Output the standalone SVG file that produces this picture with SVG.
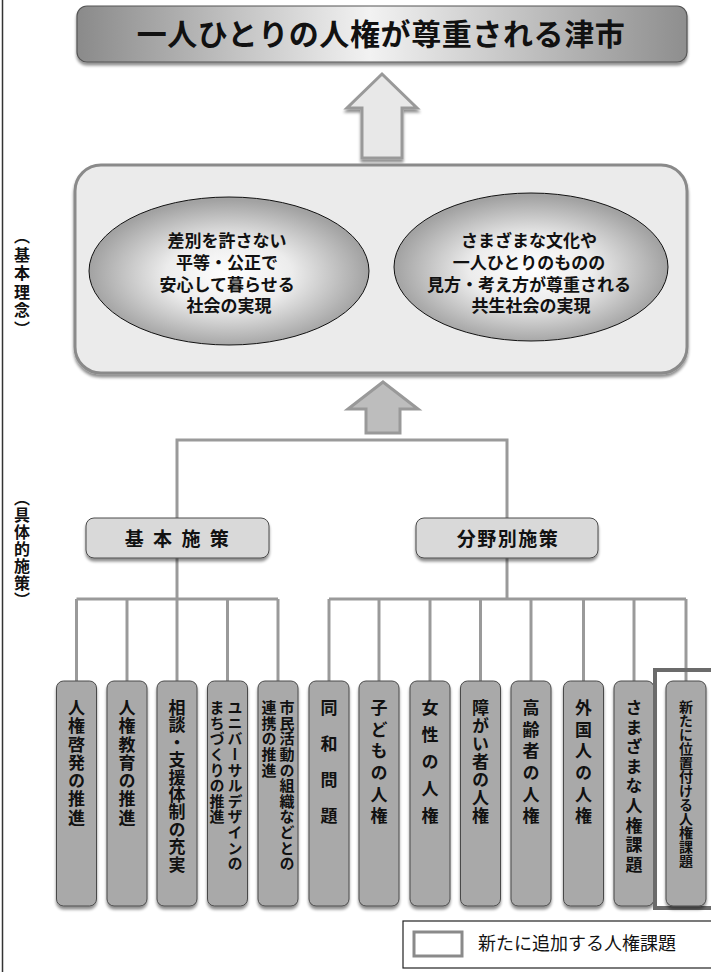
<svg xmlns="http://www.w3.org/2000/svg" width="711" height="972" viewBox="0 0 711 972">
<defs>
  <linearGradient id="gTitle" x1="0" y1="0" x2="1" y2="0">
    <stop offset="0" stop-color="#8a8a8a"/>
    <stop offset="0.48" stop-color="#f2f2f2"/>
    <stop offset="1" stop-color="#8e8e8e"/>
  </linearGradient>
  <radialGradient id="gEll" cx="0.5" cy="0.52" r="0.5">
    <stop offset="0" stop-color="#ffffff"/>
    <stop offset="0.45" stop-color="#ececec"/>
    <stop offset="1" stop-color="#a2a2a2"/>
  </radialGradient>
  <filter id="sh" x="-10%" y="-10%" width="120%" height="130%">
    <feGaussianBlur in="SourceAlpha" stdDeviation="1.8"/>
    <feOffset dx="0" dy="3" result="b"/>
    <feComponentTransfer><feFuncA type="linear" slope="0.45"/></feComponentTransfer>
    <feMerge><feMergeNode/><feMergeNode in="SourceGraphic"/></feMerge>
  </filter>
</defs>
<style>
  text { font-family: "Noto Sans CJK JP", "Noto Sans", sans-serif; fill: #111; }
  .b { font-weight: bold; }
  .line { stroke: #9a9a9a; stroke-width: 3; fill: none; }
  .leaf { fill: #a9a9a9; stroke: #4a4a4a; stroke-width: 1; }
  .mid { fill: #d9d9d9; stroke: #4a4a4a; stroke-width: 1; }
  .v { writing-mode: vertical-rl; font-weight: bold; }
</style>

<line x1="2.5" y1="0" x2="2.5" y2="972" stroke="#333" stroke-width="1.5"/>

<g id="title">
  <rect x="77" y="6" width="610" height="56" rx="10" fill="url(#gTitle)" stroke="#555" stroke-width="1.2" filter="url(#sh)"/>
  <text x="381" y="45" font-size="30" class="b" text-anchor="middle" letter-spacing="0.6">一人ひとりの人権が尊重される津市</text>
</g>

<g id="arrow1">
  <polygon points="382,74 417,108 402,108 402,158 362,158 362,108 347,108" fill="#e8e8e8" stroke="#999" stroke-width="3" stroke-linejoin="miter" filter="url(#sh)"/>
</g>

<g id="label-kihonrinen">
  <text x="22" y="228" font-size="16" class="v" letter-spacing="2.5">（基本理念）</text>
</g>

<g id="rinen">
  <rect x="75" y="165" width="612" height="208" rx="26" fill="#ebebeb" stroke="#8a8a8a" stroke-width="3" filter="url(#sh)"/>
</g>

<g id="ellipse1">
  <ellipse cx="229" cy="271" rx="140" ry="74" fill="url(#gEll)" stroke="#111" stroke-width="1"/>
  <text font-size="17" class="b" text-anchor="middle">
    <tspan x="229" y="247">差別を許さない</tspan>
    <tspan x="229" y="269">平等・公正で</tspan>
    <tspan x="229" y="291">安心して暮らせる</tspan>
    <tspan x="229" y="312">社会の実現</tspan>
  </text>
</g>

<g id="ellipse2">
  <ellipse cx="531" cy="267" rx="137" ry="74" fill="url(#gEll)" stroke="#111" stroke-width="1"/>
  <text font-size="17" class="b" text-anchor="middle">
    <tspan x="531" y="247">さまざまな文化や</tspan>
    <tspan x="531" y="269">一人ひとりのものの</tspan>
    <tspan x="531" y="291">見方・考え方が尊重される</tspan>
    <tspan x="531" y="312">共生社会の実現</tspan>
  </text>
</g>

<g id="arrow2">
  <polygon points="383,382 418,409 400,409 400,433 366,433 366,409 348,409" fill="#bdbdbd" stroke="#999" stroke-width="3"/>
</g>

<g id="connectors">
  <polyline class="line" points="177,518 177,440 507,440 507,518"/>
  <line class="line" x1="177" y1="558" x2="177" y2="599"/>
  <line class="line" x1="76.5" y1="599" x2="278" y2="599"/>
  <line class="line" x1="76.5" y1="599" x2="76.5" y2="681"/>
  <line class="line" x1="127" y1="599" x2="127" y2="681"/>
  <line class="line" x1="177" y1="599" x2="177" y2="681"/>
  <line class="line" x1="227.5" y1="599" x2="227.5" y2="681"/>
  <line class="line" x1="278" y1="599" x2="278" y2="681"/>
  <line class="line" x1="507" y1="558" x2="507" y2="599"/>
  <line class="line" x1="329" y1="599" x2="686" y2="599"/>
  <line class="line" x1="329" y1="599" x2="329" y2="681"/>
  <line class="line" x1="379" y1="599" x2="379" y2="681"/>
  <line class="line" x1="430" y1="599" x2="430" y2="681"/>
  <line class="line" x1="480.5" y1="599" x2="480.5" y2="681"/>
  <line class="line" x1="531" y1="599" x2="531" y2="681"/>
  <line class="line" x1="583.5" y1="599" x2="583.5" y2="681"/>
  <line class="line" x1="634" y1="599" x2="634" y2="681"/>
  <line class="line" x1="686" y1="599" x2="686" y2="681"/>
</g>

<g id="label-gutaiteki">
  <text x="22" y="490" font-size="16" class="v" letter-spacing="1">（具体的施策）</text>
</g>

<g id="kihon-shisaku">
  <rect class="mid" x="86" y="518" width="183" height="40" rx="8" filter="url(#sh)"/>
  <text x="178" y="545.5" font-size="19" class="b" text-anchor="middle" letter-spacing="2.5">基 本 施 策</text>
</g>

<g id="bunya-shisaku">
  <rect class="mid" x="416" y="518" width="182" height="40" rx="8" filter="url(#sh)"/>
  <text x="508" y="545.5" font-size="19" class="b" text-anchor="middle" letter-spacing="1.5">分野別施策</text>
</g>

<g id="n1">
  <rect class="leaf" x="56.5" y="681" width="40" height="225" rx="7" filter="url(#sh)"/>
  <text class="v" x="76.5" y="699" font-size="17" letter-spacing="1.3">人権啓発の推進</text>
</g>
<g id="n2">
  <rect class="leaf" x="107" y="681" width="40" height="225" rx="7" filter="url(#sh)"/>
  <text class="v" x="127" y="699" font-size="17" letter-spacing="1.3">人権教育の推進</text>
</g>
<g id="n3">
  <rect class="leaf" x="157" y="681" width="40" height="225" rx="7" filter="url(#sh)"/>
  <text class="v" x="177" y="699" font-size="17" letter-spacing="0.4">相談・支援体制の充実</text>
</g>
<g id="n4">
  <rect class="leaf" x="207.5" y="681" width="40" height="225" rx="7" filter="url(#sh)"/>
  <text class="v" x="235" y="700" font-size="15" letter-spacing="0.6">ユニバーサルデザインの</text>
  <text class="v" x="217" y="700" font-size="15" letter-spacing="0.6">まちづくりの推進</text>
</g>
<g id="n5">
  <rect class="leaf" x="258" y="681" width="40" height="225" rx="7" filter="url(#sh)"/>
  <text class="v" x="287" y="700" font-size="15" letter-spacing="0.6">市民活動の組織などとの</text>
  <text class="v" x="269" y="700" font-size="15" letter-spacing="0.6">連携の推進</text>
</g>
<g id="n6">
  <rect class="leaf" x="309" y="681" width="40" height="225" rx="7" filter="url(#sh)"/>
  <text class="v" x="329" y="699" font-size="17" letter-spacing="19">同和問題</text>
</g>
<g id="n7">
  <rect class="leaf" x="359" y="681" width="40" height="225" rx="7" filter="url(#sh)"/>
  <text class="v" x="379" y="699" font-size="17" letter-spacing="4.7">子どもの人権</text>
</g>
<g id="n8">
  <rect class="leaf" x="410" y="681" width="40" height="225" rx="7" filter="url(#sh)"/>
  <text class="v" x="430" y="699" font-size="17" letter-spacing="10">女性の人権</text>
</g>
<g id="n9">
  <rect class="leaf" x="460.5" y="681" width="40" height="225" rx="7" filter="url(#sh)"/>
  <text class="v" x="480.5" y="699" font-size="17" letter-spacing="1">障がい者の人権</text>
</g>
<g id="n10">
  <rect class="leaf" x="511" y="681" width="40" height="225" rx="7" filter="url(#sh)"/>
  <text class="v" x="531" y="699" font-size="17" letter-spacing="4.7">高齢者の人権</text>
</g>
<g id="n11">
  <rect class="leaf" x="563.5" y="681" width="40" height="225" rx="7" filter="url(#sh)"/>
  <text class="v" x="583.5" y="699" font-size="17" letter-spacing="4.7">外国人の人権</text>
</g>
<g id="n12">
  <rect class="leaf" x="614" y="681" width="40" height="225" rx="7" filter="url(#sh)"/>
  <text class="v" x="634" y="699" font-size="17" letter-spacing="2.6">さまざまな人権課題</text>
</g>
<g id="n13">
  <rect x="655" y="670" width="60" height="238" fill="none" stroke="#6b6b6b" stroke-width="4"/>
  <rect class="leaf" x="666" y="681" width="40" height="225" rx="7" filter="url(#sh)"/>
  <text class="v" x="686" y="700" font-size="14" letter-spacing="0">新たに位置付ける人権課題</text>
</g>

<g id="legend">
  <rect x="403" y="921" width="312" height="47" fill="#fff" stroke="#222" stroke-width="1.2"/>
  <rect x="414" y="932" width="48" height="24" fill="#fff" stroke="#8a8a8a" stroke-width="3"/>
  <text x="478" y="950" font-size="18">新たに追加する人権課題</text>
</g>
</svg>
